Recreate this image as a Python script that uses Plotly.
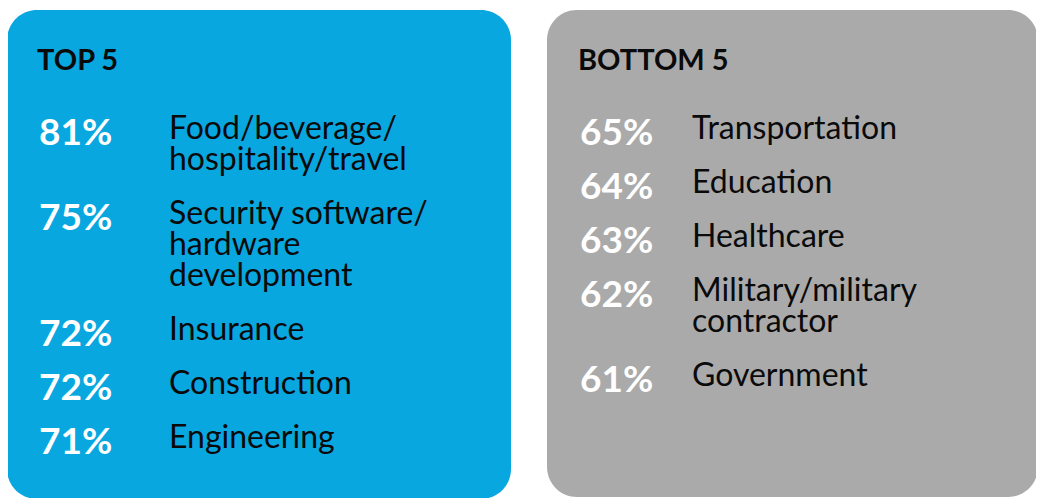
import plotly.graph_objects as go

W, H = 1044, 498
OFF = 8  # page body margin compensation

# ---- data ----
top_title = "TOP 5"
top_values = [81, 75, 72, 72, 71]
top_labels = ["Food/beverage/\nhospitality/travel",
              "Security software/\nhardware\ndevelopment",
              "Insurance", "Construction", "Engineering"]

bottom_title = "BOTTOM 5"
bottom_values = [65, 64, 63, 62, 61]
bottom_labels = ["Transportation", "Education", "Healthcare",
                 "Military/military\ncontractor", "Government"]

BLUE = "#08A7E0"
GRAY = "#AAAAAA"
FONT = "Lato"


def rounded_rect(x0, y0, x1, y1, r):
    k = 0.5523 * r
    return (f"M {x0+r},{y0} L {x1-r},{y0} C {x1-r+k},{y0} {x1},{y0+r-k} {x1},{y0+r} "
            f"L {x1},{y1-r} C {x1},{y1-r+k} {x1-r+k},{y1} {x1-r},{y1} "
            f"L {x0+r},{y1} C {x0+r-k},{y1} {x0},{y1-r+k} {x0},{y1-r} "
            f"L {x0},{y0+r} C {x0},{y0+r-k} {x0+r-k},{y0} {x0+r},{y0} Z")


fig = go.Figure()

fig.add_shape(type="path", path=rounded_rect(7, 10, 511, 499, 30),
              fillcolor=BLUE, line=dict(width=0), layer="below")
fig.add_shape(type="path", path=rounded_rect(547, 10, 1038, 497, 30),
              fillcolor=GRAY, line=dict(width=0), layer="below")

LINE_H = 31
GAP = 23
START_Y = 135.5
TITLE_Y = 63


def add_panel(title, values, labels, x_pct, x_lab):
    fig.add_trace(go.Scatter(x=[x_pct - 2], y=[TITLE_Y], mode="text", text=[f"<b>{title}</b>"],
                             textposition="middle right",
                             textfont=dict(family=FONT, size=29, color="#0a0a0a"),
                             hoverinfo="skip", showlegend=False))
    pct_y, lab_x, lab_y, lab_t = [], [], [], []
    y = START_Y
    for v, lab in zip(values, labels):
        pct_y.append(y)
        lines = lab.split("\n")
        for i, ln in enumerate(lines):
            lab_y.append(y - 5 + i * LINE_H)
            lab_x.append(x_lab)
            lab_t.append(ln)
        y += len(lines) * LINE_H + GAP
    fig.add_trace(go.Scatter(x=[x_pct] * len(values), y=pct_y, mode="text",
                             text=[f"<b>{v}%</b>" for v in values],
                             textposition="middle right",
                             textfont=dict(family=FONT, size=37, color="white"),
                             hoverinfo="skip", showlegend=False))
    fig.add_trace(go.Scatter(x=lab_x, y=lab_y, mode="text", text=lab_t,
                             textposition="middle right",
                             textfont=dict(family=FONT, size=32, color="#0a0a0a"),
                             hoverinfo="skip", showlegend=False))


add_panel(top_title, top_values, top_labels, 39, 169)
add_panel(bottom_title, bottom_values, bottom_labels, 580, 692)

fig.update_layout(
    width=W, height=H,
    margin=dict(l=0, r=0, t=0, b=0),
    paper_bgcolor="white", plot_bgcolor="white",
    xaxis=dict(range=[OFF, W + OFF], visible=False, fixedrange=True),
    yaxis=dict(range=[H + OFF, OFF], visible=False, fixedrange=True),
    showlegend=False,
)

fig.write_html("out.html")
